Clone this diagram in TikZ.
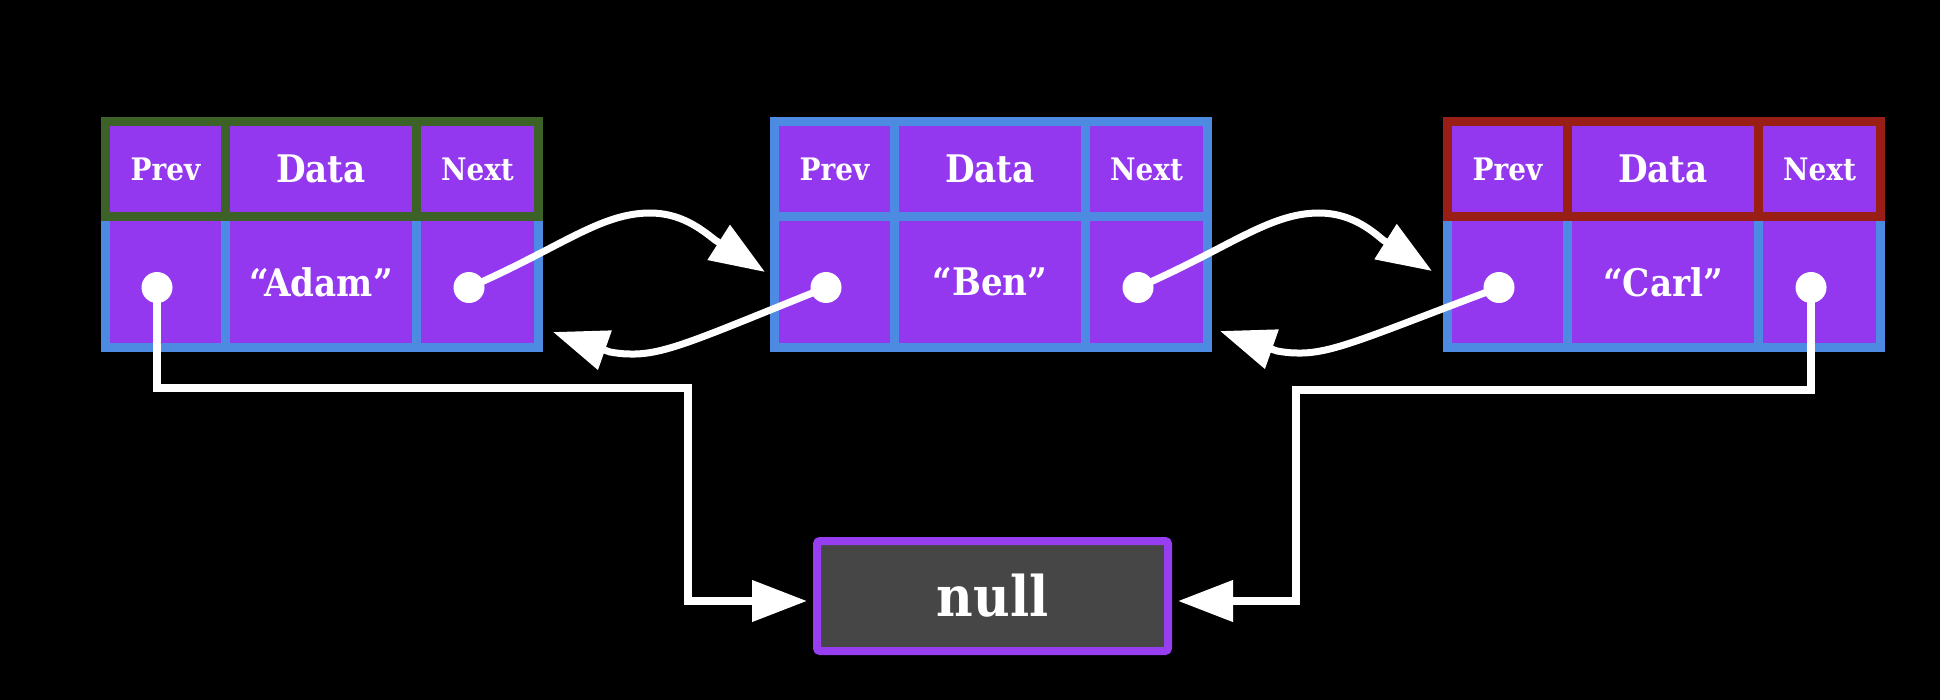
\documentclass[tikz,border=0pt]{standalone}
\usepackage{fontspec}
\setmainfont[FakeStretch=0.9]{DejaVu Serif}
\usetikzlibrary{arrows.meta,calc}
\definecolor{cellpurple}{RGB}{147,56,238}
\definecolor{frameblue}{RGB}{77,138,225}
\definecolor{hdrgreen}{RGB}{60,98,40}
\definecolor{hdrred}{RGB}{152,30,22}
\definecolor{nullgray}{RGB}{70,70,70}
\definecolor{nullborder}{RGB}{150,62,240}
\tikzset{
  frame/.style={rectangle, draw=none, inner sep=0pt, outer sep=0pt,
    minimum width=442pt, minimum height=235pt},
  cell/.style={rectangle, draw=none, fill=cellpurple, inner sep=0pt, outer sep=0pt,
    text=white, font=\bfseries\fontsize{38}{42}\selectfont},
  hsmall/.style={font=\bfseries\fontsize{31}{34}\selectfont},
  dot/.style={circle, fill=white, draw=none, minimum size=31pt, inner sep=0pt},
  link/.style={draw=white, line width=7pt, -{Triangle[length=55pt,width=40pt]}},
  nulllink/.style={link, line width=7.5pt, shorten >=6pt},
  nullbox/.style={rectangle, draw=nullborder, line width=8pt, fill=nullgray,
    rounded corners=3pt, minimum width=351pt, minimum height=110pt, inner sep=0pt,
    text=white, font=\bfseries\fontsize{56}{60}\selectfont}
}
\newcommand{\llrecord}[4]{%
\begin{scope}[shift={(#2,0)}]
  \node[frame, fill=frameblue] (#1) at (221,234.5) {};
  \node[frame, fill=#3, minimum height=104pt] (#1-h) at (221,169) {};
  \node[cell, hsmall, minimum width=111pt, minimum height=86pt] (#1-ph) at (64.5,169) {Prev};
  \node[cell, minimum width=182pt, minimum height=86pt] (#1-dh) at (220,169) {Data};
  \node[cell, hsmall, minimum width=113pt, minimum height=86pt] (#1-nh) at (376.5,169) {Next};
  \node[cell, minimum width=111pt, minimum height=122pt] (#1-p) at (64.5,282) {};
  \node[cell, minimum width=182pt, minimum height=122pt] (#1-d) at (220,282) {#4};
  \node[cell, minimum width=113pt, minimum height=122pt] (#1-n) at (376.5,282) {};
  \node[dot] (#1-pdot) at (56,287.5) {};
  \node[dot] (#1-ndot) at (368,287.5) {};
\end{scope}}
\begin{document}
\begin{tikzpicture}[x=1pt, y=-1pt]
  \useasboundingbox (0,0) rectangle (1940,700);
  \fill[black] (0,0) rectangle (1940,700);

  \llrecord{a}{101}{hdrgreen}{“Adam”}
  \llrecord{b}{770}{frameblue}{“Ben”}
  \llrecord{c}{1443}{hdrred}{“Carl”}

  \node[nullbox] (null) at (992.5,596) {null};

  % next pointers
  \coordinate (ab-tip) at (765,272);
  \coordinate (bc-tip) at (1432,271);
  \draw[link] (a-ndot.center) .. controls (560,248) and (600,213) .. (650,213)
     .. controls (680,213) and (700,228) .. (715,240) -- (ab-tip);
  \draw[link] (b-ndot.center) .. controls (1229,248) and (1269,213) .. (1319,213)
     .. controls (1349,213) and (1369,228) .. (1383,240) -- (bc-tip);

  % prev pointers
  \coordinate (ba-tip) at (553,332);
  \coordinate (cb-tip) at (1220,331);
  \draw[link] (b-pdot.center) .. controls (700,338) and (665,355) .. (630,354)
     .. controls (622,354) and (616,353) .. (610,352) -- (ba-tip);
  \draw[link] (c-pdot.center) .. controls (1367,337) and (1332,354) .. (1297,353)
     .. controls (1289,353) and (1283,352) .. (1277,351) -- (cb-tip);

  % null pointers
  \coordinate (lnull) at (688,388);
  \coordinate (rnull) at (1296,390);
  \coordinate (nullin-l) at ($(null.west)+(0,5)$);
  \coordinate (nullin-r) at ($(null.east)+(0,5)$);
  \draw[nulllink] (a-pdot.center) |- (lnull) |- (nullin-l);
  \draw[nulllink] (c-ndot.center) |- (rnull) |- (nullin-r);
\end{tikzpicture}
\end{document}
